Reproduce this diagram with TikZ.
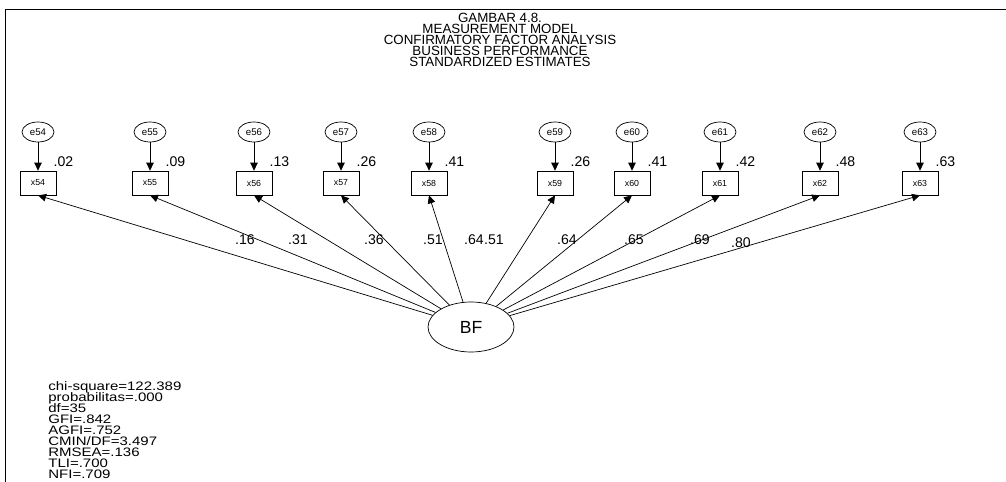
\documentclass[tikz,border=0pt]{standalone}
\usepackage{fontspec}
\setmainfont{Liberation Sans}
\newfontfamily\statfont[FakeStretch=1.22]{Liberation Sans}
\usetikzlibrary{arrows.meta, shapes.geometric, positioning}

\begin{document}
\begin{tikzpicture}[x=0.02cm, y=-0.02cm,
      errnode/.style={draw, ellipse, minimum width=0.64cm, minimum height=0.40cm,
         inner sep=0pt, font=\fontsize{5.5}{6}\selectfont},
      obsnode/.style={draw, rectangle, minimum width=0.72cm, minimum height=0.48cm,
         inner sep=0pt, font=\fontsize{5}{6}\selectfont},
      estlbl/.style={inner sep=0pt, font=\fontsize{8}{9}\selectfont},
      loadarrow/.style={-{Triangle[length=0.16cm, width=0.15cm]}}]
   \useasboundingbox (0,0) rectangle (1006,482);
   % Frame
   \draw (5,482) -- (5,9) -- (1006,9);
   % Title
   \node[anchor=north, align=center, inner sep=0pt,
      font={\fontsize{7.6}{6.3}\selectfont\setlength{\lineskiplimit}{-10pt}}]
      (title) at (500,13)
      {GAMBAR 4.8.\\MEASUREMENT MODEL\\CONFIRMATORY FACTOR ANALYSIS\\
       BUSINESS PERFORMANCE\\STANDARDIZED ESTIMATES};
   % Latent factor
   \node[draw, ellipse, minimum width=1.72cm, minimum height=1.0cm, inner sep=0pt,
      font=\fontsize{10}{12}\selectfont] (bf) at (471,327) {BF};
   % Indicators: error -> item, with squared multiple correlations
   \foreach \n/\px/\rsq in {54/38/.02, 55/150/.09, 56/254/.13, 57/341/.26, 58/429/.41,
                            59/555/.26, 60/632/.41, 61/720/.42, 62/820/.48, 63/920/.63} {
      \node[errnode] (e\n) at (\px,132) {e\n};
      \node[obsnode] (x\n) at (\px,183) {x\n};
      \draw[loadarrow] (e\n) -- (x\n);
      \node[estlbl, anchor=south west] (r\n)
         at ([xshift=-0.06cm, yshift=0.08cm]x\n.north east) {\rsq};
      \draw[loadarrow] (bf) -- (x\n.south);
   }
   % Standardized loadings
   \foreach \n/\lx/\ly/\ld in {54/245/240/.16, 55/298/240/.31, 56/374/240/.36,
                               57/433/240/.51, 58/474/240/.64, 59/494/240/.51,
                               60/567/240/.64, 61/634/240/.65, 62/700/240/.69,
                               63/741/243/.80}
      \node[estlbl] (ld\n) at (\lx,\ly) {\ld};
   % Fit indices
   \node[anchor=north west, align=left, inner sep=0pt,
      font={\statfont\fontsize{7}{6.3}\selectfont\setlength{\lineskiplimit}{-10pt}}]
      (fit) at (48,381)
      {chi-square=122.389\\probabilitas=.000\\df=35\\GFI=.842\\AGFI=.752\\
       CMIN/DF=3.497\\RMSEA=.136\\TLI=.700\\NFI=.709};
\end{tikzpicture}
\end{document}
